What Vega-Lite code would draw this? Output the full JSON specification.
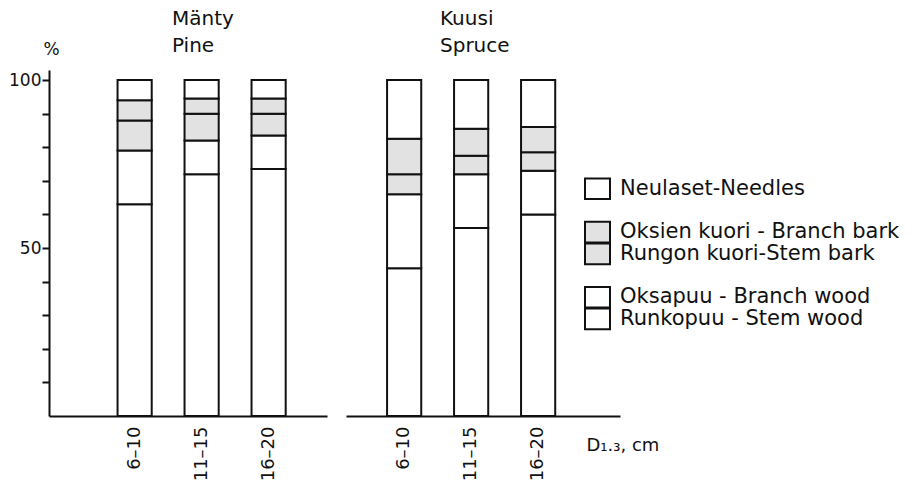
{
  "$schema": "https://vega.github.io/schema/vega-lite/v6.json",
  "background": "white",
  "padding": {"left": 8, "top": 9, "right": 0, "bottom": 0},
  "config": {
    "view": {"stroke": null},
    "font": "DejaVu Sans",
    "axis": {
      "domainColor": "#111111",
      "domainWidth": 2,
      "tickColor": "#111111",
      "tickWidth": 2,
      "labelColor": "#111111",
      "labelFont": "DejaVu Sans",
      "labelFontSize": 17,
      "titleColor": "#111111",
      "titleFont": "DejaVu Sans",
      "titleFontWeight": "normal",
      "grid": false
    },
    "title": {"color": "#111111", "font": "DejaVu Sans", "fontWeight": "normal", "fontSize": 20, "lineHeight": 27, "anchor": "start", "frame": "group"}
  },
  "datasets": {
    "shares": [
      {"species": "Pine", "d": "6–10", "part": "Stem wood", "share": 63},
      {"species": "Pine", "d": "6–10", "part": "Branch wood", "share": 16},
      {"species": "Pine", "d": "6–10", "part": "Stem bark", "share": 9},
      {"species": "Pine", "d": "6–10", "part": "Branch bark", "share": 6},
      {"species": "Pine", "d": "6–10", "part": "Needles", "share": 6},
      {"species": "Pine", "d": "11–15", "part": "Stem wood", "share": 72},
      {"species": "Pine", "d": "11–15", "part": "Branch wood", "share": 10},
      {"species": "Pine", "d": "11–15", "part": "Stem bark", "share": 8},
      {"species": "Pine", "d": "11–15", "part": "Branch bark", "share": 4.5},
      {"species": "Pine", "d": "11–15", "part": "Needles", "share": 5.5},
      {"species": "Pine", "d": "16–20", "part": "Stem wood", "share": 73.5},
      {"species": "Pine", "d": "16–20", "part": "Branch wood", "share": 10},
      {"species": "Pine", "d": "16–20", "part": "Stem bark", "share": 6.5},
      {"species": "Pine", "d": "16–20", "part": "Branch bark", "share": 4.5},
      {"species": "Pine", "d": "16–20", "part": "Needles", "share": 5.5},
      {"species": "Spruce", "d": "6–10", "part": "Stem wood", "share": 44},
      {"species": "Spruce", "d": "6–10", "part": "Branch wood", "share": 22},
      {"species": "Spruce", "d": "6–10", "part": "Stem bark", "share": 6},
      {"species": "Spruce", "d": "6–10", "part": "Branch bark", "share": 10.5},
      {"species": "Spruce", "d": "6–10", "part": "Needles", "share": 17.5},
      {"species": "Spruce", "d": "11–15", "part": "Stem wood", "share": 56},
      {"species": "Spruce", "d": "11–15", "part": "Branch wood", "share": 16},
      {"species": "Spruce", "d": "11–15", "part": "Stem bark", "share": 5.5},
      {"species": "Spruce", "d": "11–15", "part": "Branch bark", "share": 8},
      {"species": "Spruce", "d": "11–15", "part": "Needles", "share": 14.5},
      {"species": "Spruce", "d": "16–20", "part": "Stem wood", "share": 60},
      {"species": "Spruce", "d": "16–20", "part": "Branch wood", "share": 13},
      {"species": "Spruce", "d": "16–20", "part": "Stem bark", "share": 5.5},
      {"species": "Spruce", "d": "16–20", "part": "Branch bark", "share": 7.5},
      {"species": "Spruce", "d": "16–20", "part": "Needles", "share": 14}
    ],
    "key": [
      {"part": "Needles", "label": "Neulaset-Needles"},
      {"part": "Branch bark", "label": "Oksien kuori - Branch bark"},
      {"part": "Stem bark", "label": "Rungon kuori-Stem bark"},
      {"part": "Branch wood", "label": "Oksapuu - Branch wood"},
      {"part": "Stem wood", "label": "Runkopuu - Stem wood"}
    ]
  },
  "spacing": 19,
  "hconcat": [
    {
      "width": 278,
      "height": 346,
      "title": {"text": ["Mänty", "Pine"], "dx": 123, "offset": -16},
      "data": {"name": "shares"},
      "transform": [
        {"filter": "datum.species == 'Pine'"},
        {"calculate": "indexof(['Stem wood', 'Branch wood', 'Stem bark', 'Branch bark', 'Needles'], datum.part)", "as": "layerOrder"}
      ],
      "mark": {"type": "bar", "stroke": "#111111", "strokeWidth": 2},
      "encoding": {
        "x": {
          "field": "d", "type": "ordinal", "sort": ["6–10", "11–15", "16–20"],
          "scale": {"paddingInner": 0.49, "paddingOuter": 0.82, "align": 0.624},
          "axis": {"title": null, "ticks": false, "labelAngle": -90, "labelAlign": "right", "labelBaseline": "middle", "labelPadding": 10, "labelFontSize": 18}
        },
        "y": {
          "field": "share", "type": "quantitative", "stack": "zero",
          "scale": {"domain": [0, 103], "nice": false},
          "axis": {
            "values": [10, 20, 30, 40, 50, 60, 70, 80, 90, 100],
            "labelExpr": "datum.value == 50 || datum.value == 100 ? datum.label : ''",
            "tickSize": 7, "labelPadding": 1,
            "title": "%", "titleAngle": 0, "titleAlign": "center", "titleBaseline": "alphabetic",
            "titleX": 2, "titleY": -16, "titleFontSize": 17
          }
        },
        "order": {"field": "layerOrder", "type": "quantitative", "sort": "ascending"},
        "color": {
          "field": "part", "type": "nominal",
          "scale": {
            "domain": ["Stem wood", "Branch wood", "Stem bark", "Branch bark", "Needles"],
            "range": ["#ffffff", "#ffffff", "#e2e2e2", "#e2e2e2", "#ffffff"]
          },
          "legend": null
        }
      }
    },
    {
      "width": 274,
      "height": 346,
      "title": {"text": ["Kuusi", "Spruce"], "dx": 94, "offset": 14},
      "layer": [
        {
          "data": {"name": "shares"},
          "transform": [
            {"filter": "datum.species == 'Spruce'"},
            {"calculate": "indexof(['Stem wood', 'Branch wood', 'Stem bark', 'Branch bark', 'Needles'], datum.part)", "as": "layerOrder"}
          ],
          "mark": {"type": "bar", "stroke": "#111111", "strokeWidth": 2},
          "encoding": {
            "x": {
              "field": "d", "type": "ordinal", "sort": ["6–10", "11–15", "16–20"],
              "scale": {"paddingInner": 0.49, "paddingOuter": 0.79, "align": 0.388},
              "axis": {
                "ticks": false, "labelAngle": -90, "labelAlign": "right", "labelBaseline": "middle", "labelPadding": 10, "labelFontSize": 18,
                "title": "D₁.₃, cm", "titleAngle": 0, "titleAlign": "left", "titleBaseline": "alphabetic",
                "titleX": 240, "titleY": 34, "titleFontSize": 18
              }
            },
            "y": {
              "field": "share", "type": "quantitative", "stack": "zero",
              "scale": {"domain": [0, 103], "nice": false},
              "axis": null
            },
            "order": {"field": "layerOrder", "type": "quantitative", "sort": "ascending"},
            "color": {
              "field": "part", "type": "nominal",
              "scale": {
                "domain": ["Stem wood", "Branch wood", "Stem bark", "Branch bark", "Needles"],
                "range": ["#ffffff", "#ffffff", "#e2e2e2", "#e2e2e2", "#ffffff"]
              },
              "legend": null
            }
          }
        },
        {
          "data": {"name": "key"},
          "layer": [
            {
              "mark": {"type": "rect", "stroke": "#111111", "strokeWidth": 2},
              "encoding": {
                "x": {"datum": 239, "type": "quantitative", "scale": {"domain": [0, 274], "nice": false, "zero": false}, "axis": null},
                "x2": {"datum": 264},
                "color": {"field": "part", "type": "nominal", "legend": null}
              }
            },
            {
              "mark": {"type": "text", "align": "left", "baseline": "middle", "fontSize": 21, "color": "#111111"},
              "encoding": {
                "x": {"datum": 274, "type": "quantitative"},
                "text": {"field": "label"}
              }
            }
          ],
          "encoding": {
            "y": {
              "field": "part", "type": "nominal",
              "scale": {
                "type": "band",
                "domain": ["pad1", "pad2", "pad3", "pad4", "pad5", "Needles", "gap-a", "Branch bark", "Stem bark", "gap-b", "Branch wood", "Stem wood", "pad6", "pad7", "pad8", "pad9"],
                "paddingInner": 0.05, "paddingOuter": 0
              },
              "axis": null
            }
          }
        }
      ],
      "resolve": {"scale": {"x": "independent", "y": "independent"}, "axis": {"x": "independent", "y": "independent"}}
    }
  ]
}
